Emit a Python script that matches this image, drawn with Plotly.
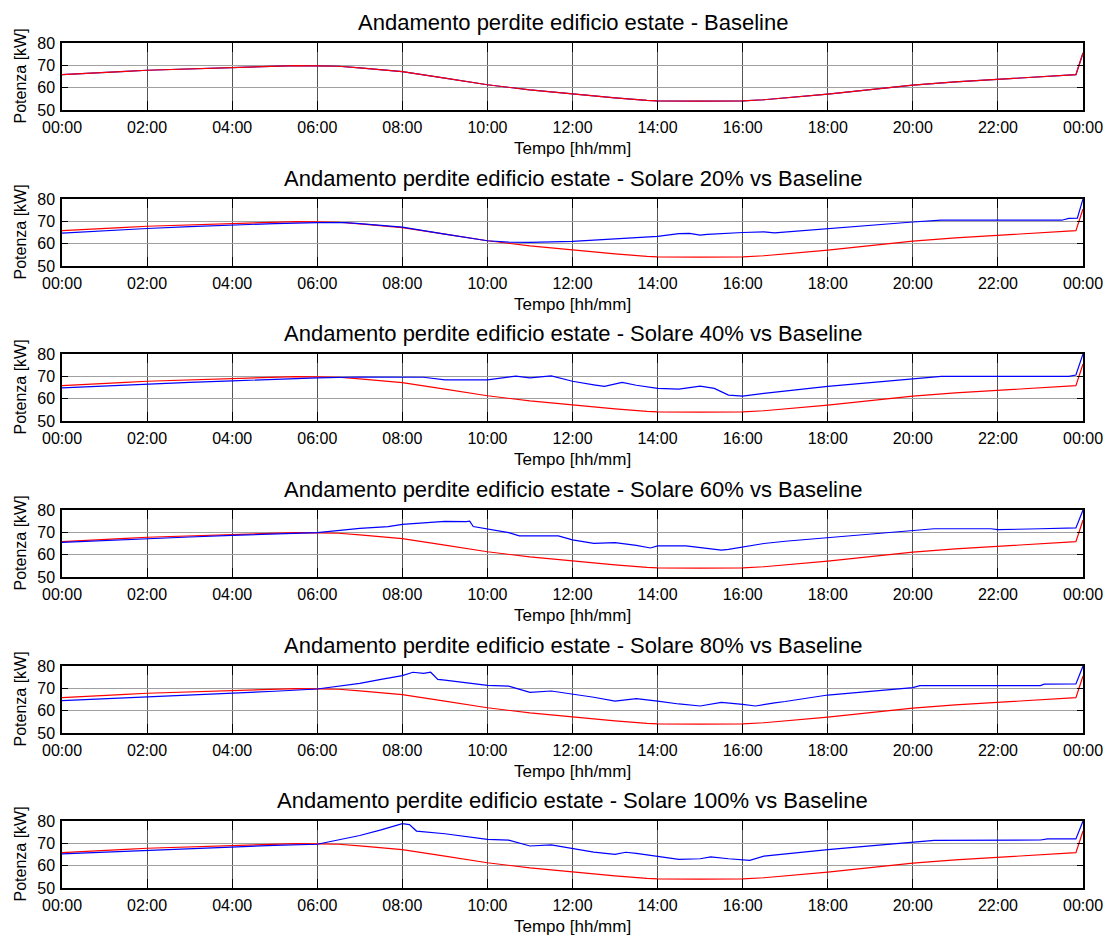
import plotly.graph_objects as go

# ---------------- data ----------------
TICK_LABELS = ["00:00", "02:00", "04:00", "06:00", "08:00", "10:00", "12:00",
               "14:00", "16:00", "18:00", "20:00", "22:00", "00:00"]

PANEL_TITLES = [
    "Andamento perdite edificio estate - Baseline",
    "Andamento perdite edificio estate - Solare 20% vs Baseline",
    "Andamento perdite edificio estate - Solare 40% vs Baseline",
    "Andamento perdite edificio estate - Solare 60% vs Baseline",
    "Andamento perdite edificio estate - Solare 80% vs Baseline",
    "Andamento perdite edificio estate - Solare 100% vs Baseline",
]

baseline_t = ["00:00", "00:30", "01:00", "01:30", "02:00", "03:00", "04:00", "05:00", "05:30",
              "06:00", "06:30", "07:00", "07:30", "08:00", "09:00", "10:00", "11:00", "12:00",
              "13:00", "13:45", "14:00", "15:00", "16:00", "16:30", "17:00", "18:00", "19:00",
              "20:00", "21:00", "22:00", "23:00", "23:50", "24:00"]
baseline_kw = [65.8, 66.2, 66.8, 67.3, 67.8, 68.4, 69.0, 69.5, 69.9,
               69.8, 69.6, 68.9, 68.2, 67.2, 64.3, 61.3, 59.0, 57.1,
               55.4, 54.3, 54.1, 54.0, 54.1, 54.6, 55.4, 57.1, 59.1,
               61.1, 62.6, 63.8, 64.9, 65.8, 75.5]

s20_t = ["00:00", "01:00", "02:00", "03:00", "04:00", "05:00", "06:00", "06:40", "07:00",
         "08:00", "09:00", "10:00", "10:30", "11:00", "12:00", "13:00", "14:00", "14:30",
         "14:45", "15:00", "15:10", "16:00", "16:30", "16:45", "17:00", "18:00", "19:00",
         "20:00", "20:40", "23:30", "23:40", "23:52", "24:00"]
s20_kw = [64.7, 65.8, 66.8, 67.6, 68.4, 69.0, 69.4, 69.4, 69.0,
          67.4, 64.3, 61.3, 60.7, 60.6, 61.0, 62.3, 63.3, 64.5,
          64.6, 63.8, 64.2, 65.0, 65.3, 64.8, 65.2, 66.6, 68.1,
          69.7, 70.5, 70.5, 71.3, 71.4, 80.0]

s40_t = ["00:00", "01:00", "02:00", "03:00", "04:00", "05:00", "06:00", "07:00", "08:00",
         "08:30", "09:00", "10:00", "10:40", "11:00", "11:30", "12:00", "12:30", "12:45",
         "13:10", "13:30", "14:00", "14:30", "15:00", "15:20", "15:40", "16:00", "16:30",
         "17:00", "18:00", "19:00", "20:00", "20:40", "23:40", "23:50", "24:00"]
s40_kw = [64.8, 65.7, 66.5, 67.3, 68.0, 68.8, 69.3, 69.7, 69.6,
          69.6, 68.4, 68.4, 70.1, 69.3, 70.2, 67.8, 66.2, 65.5,
          67.3, 66.0, 64.6, 64.3, 65.6, 64.6, 61.6, 61.1, 62.4,
          63.5, 65.5, 67.2, 69.0, 70.0, 70.0, 70.6, 80.0]

s60_t = ["00:00", "01:00", "02:00", "03:00", "04:00", "05:00", "06:00", "07:00", "07:40",
         "08:00", "08:30", "09:00", "09:30", "09:35", "09:40", "10:00", "10:30", "10:45",
         "11:40", "12:00", "12:30", "13:00", "13:30", "13:50", "14:00", "14:40", "15:00",
         "15:30", "15:40", "16:00", "16:30", "17:00", "18:00", "19:00", "20:00", "20:30",
         "21:50", "22:00", "23:00", "23:50", "24:00"]
s60_kw = [65.5, 66.4, 67.2, 67.9, 68.6, 69.2, 69.9, 71.8, 72.6,
          73.6, 74.4, 74.9, 74.8, 75.0, 72.6, 71.4, 69.9, 68.4,
          68.4, 66.6, 65.1, 65.4, 64.2, 63.0, 63.9, 63.9, 63.2,
          62.0, 62.4, 63.4, 65.0, 66.0, 67.6, 69.2, 70.9, 71.6,
          71.6, 71.2, 71.6, 72.0, 80.0]

s80_t = ["00:00", "01:00", "02:00", "03:00", "04:00", "05:00", "06:00", "07:00", "07:30",
         "08:00", "08:15", "08:30", "08:40", "08:50", "09:00", "09:30", "10:00", "10:30",
         "11:00", "11:30", "12:00", "12:30", "13:00", "13:30", "14:00", "14:30", "15:00",
         "15:30", "16:00", "16:18", "16:45", "17:00", "18:00", "19:00", "20:00", "20:10",
         "23:00", "23:05", "23:50", "24:00"]
s80_kw = [64.5, 65.3, 66.2, 67.0, 67.9, 68.7, 69.7, 72.2, 74.0,
          75.7, 77.2, 76.7, 77.2, 74.0, 73.7, 72.5, 71.3, 71.0,
          68.2, 68.8, 67.5, 66.0, 64.3, 65.4, 64.3, 63.0, 62.1,
          63.7, 62.8, 62.1, 63.5, 64.1, 67.0, 68.7, 70.3, 71.2,
          71.2, 71.9, 72.0, 80.0]

s100_t = ["00:00", "01:00", "02:00", "03:00", "04:00", "05:00", "06:00", "07:00", "07:30",
          "08:00", "08:10", "08:20", "09:00", "09:30", "10:00", "10:30", "11:00", "11:30",
          "12:00", "12:30", "13:00", "13:15", "13:30", "14:00", "14:30", "15:00", "15:15",
          "15:40", "16:00", "16:10", "16:30", "17:00", "18:00", "19:00", "20:00", "20:30",
          "23:00", "23:10", "23:50", "24:00"]
s100_kw = [65.3, 66.1, 67.0, 67.8, 68.5, 69.1, 69.6, 73.5, 76.0,
           78.8, 78.4, 75.5, 74.3, 73.0, 71.8, 71.4, 68.8, 69.3,
           67.6, 66.1, 65.1, 66.0, 65.5, 64.3, 62.8, 63.1, 63.9,
           63.1, 62.8, 62.4, 64.3, 65.3, 67.2, 68.9, 70.6, 71.3,
           71.5, 72.0, 72.0, 80.0]

BLUE_SERIES = [(baseline_t, baseline_kw), (s20_t, s20_kw), (s40_t, s40_kw),
               (s60_t, s60_kw), (s80_t, s80_kw), (s100_t, s100_kw)]


def to_hours(labels):
    out = []
    for s in labels:
        h, m = s.split(":")
        out.append(int(h) + int(m) / 60.0)
    return out


# ---------------- layout geometry ----------------
W, H = 1115, 936
ML, MR, MT, MB = 62, 26, 43, 48
PLOT_H = H - MT - MB
TOPS = [43, 199, 354, 510, 666, 821]
PH = 67
FONT = "Arial, 'Liberation Sans', Helvetica, sans-serif"


def fy(px):
    return (H - MB - px) / PLOT_H


fig = go.Figure()
annotations = []
for i in range(6):
    n = "" if i == 0 else str(i + 1)
    xa, ya = "x" + n, "y" + n
    bt, bk = BLUE_SERIES[i]
    red = dict(x=to_hours(baseline_t), y=baseline_kw, mode="lines",
               line=dict(color="#ff0000", width=1.2), xaxis=xa, yaxis=ya,
               showlegend=False, hoverinfo="skip")
    blue = dict(x=to_hours(bt), y=bk, mode="lines",
                line=dict(color="#0000ff", width=1.2), xaxis=xa, yaxis=ya,
                showlegend=False, hoverinfo="skip")
    if i == 0:
        fig.add_trace(go.Scatter(**blue))
        fig.add_trace(go.Scatter(**red))
    else:
        fig.add_trace(go.Scatter(**red))
        fig.add_trace(go.Scatter(**blue))

    dom = [fy(TOPS[i] + PH), fy(TOPS[i])]
    fig.layout["xaxis" + n] = dict(
        domain=[0, 1], anchor=ya, range=[0, 24],
        tickmode="array", tickvals=list(range(0, 25, 2)), ticktext=TICK_LABELS,
        ticks="inside", ticklen=9, tickcolor="black", tickwidth=1,
        showline=True, linecolor="black", linewidth=1.5, mirror="ticks",
        showgrid=True, gridcolor="#555555", gridwidth=1, zeroline=False,
        tickfont=dict(family=FONT, size=16, color="black"), ticklabelstandoff=2,
    )
    fig.layout["yaxis" + n] = dict(
        domain=dom, anchor=xa, range=[50, 80],
        tickmode="array", tickvals=[50, 60, 70, 80],
        ticks="inside", ticklen=6, tickcolor="black", tickwidth=1,
        showline=True, linecolor="black", linewidth=1.5, mirror="ticks",
        showgrid=True, gridcolor="#a0a0a0", gridwidth=1, zeroline=False,
        tickfont=dict(family=FONT, size=16, color="black"), ticklabelstandoff=2,
    )
    annotations.append(dict(text=PANEL_TITLES[i], xref="paper", yref="paper",
                            x=0.5, y=fy(TOPS[i]), xanchor="center", yanchor="bottom",
                            yshift=6, showarrow=False,
                            font=dict(family=FONT, size=22, color="black")))
    annotations.append(dict(text="Tempo [hh/mm]", xref="paper", yref="paper",
                            x=0.5, y=fy(TOPS[i] + PH), xanchor="center", yanchor="top",
                            yshift=-27, showarrow=False,
                            font=dict(family=FONT, size=17, color="black")))
    annotations.append(dict(text="Potenza [kW]", xref="paper", yref="paper",
                            x=0, y=fy(TOPS[i] + PH / 2), xanchor="center", yanchor="middle",
                            xshift=-42, textangle=-90, showarrow=False,
                            font=dict(family=FONT, size=16, color="black")))

fig.update_layout(
    width=W, height=H, autosize=False,
    margin=dict(l=ML, r=MR, t=MT, b=MB),
    paper_bgcolor="white", plot_bgcolor="white",
    annotations=annotations, showlegend=False,
)

fig.write_html("out.html",
               config={"displayModeBar": False},
               post_script="document.body.style.margin='0';"
                           "document.documentElement.style.overflow='hidden';")
